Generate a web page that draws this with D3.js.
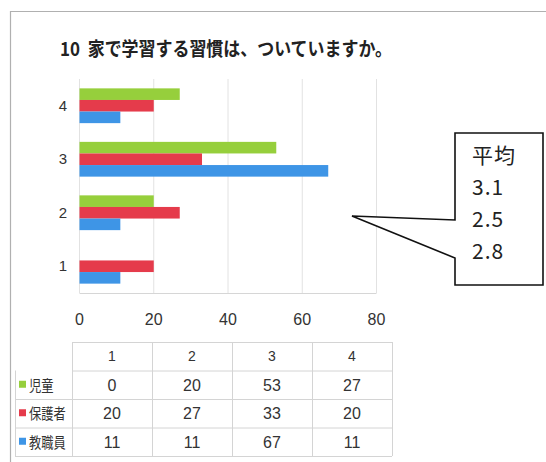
<!DOCTYPE html>
<html>
<head>
<meta charset="utf-8">
<script src="https://cdn.jsdelivr.net/npm/d3@7"></script>
<style>
  body { margin: 0; background: #fff; }
  svg { display: block; }
</style>
</head>
<body>
<script>
// data
var categories = ['1', '2', '3', '4'];
var seriesNames = ['児童', '保護者', '教職員'];
var seriesColors = ['#96cf3c', '#e53b4b', '#3e95e6'];
var jidou = [0, 20, 53, 27];
var hogosha = [20, 27, 33, 20];
var kyoshokuin = [11, 11, 67, 11];
var averages = ['3.1', '2.5', '2.8'];
var xTicks = [0, 20, 40, 60, 80];
var title = '10  家で学習する習慣は、ついていますか。';

var values = [jidou, hogosha, kyoshokuin];
var numFont = '"Liberation Sans Narrow", "Liberation Sans", sans-serif';
var jpFont = '"Noto Sans CJK JP", sans-serif';

var svg = d3.select('body')
            .append('svg')
            .attr('width', 546)
            .attr('height', 462);

// outer frame (left + top only are visible)
svg.append('path')
   .attr('d', 'M10.5,462 L10.5,11.5 L546,11.5')
   .attr('fill', 'none')
   .attr('stroke', '#b0b0b0')
   .attr('stroke-width', 1.2);

svg.append('text')
   .attr('x', 60)
   .attr('y', 56)
   .attr('font-family', jpFont)
   .attr('font-size', 19)
   .attr('font-weight', 'bold')
   .attr('textLength', 332)
   .attr('lengthAdjust', 'spacingAndGlyphs')
   .attr('fill', '#222')
   .style('white-space', 'pre')
   .text(title);

// chart
var x = d3.scaleLinear().domain([0, 80]).range([79.5, 376.5]);
var y = d3.scaleBand().domain(categories.slice().reverse()).range([79, 293]).paddingInner(0.35).paddingOuter(0.175);
var ySub = d3.scaleBand().domain(seriesNames).range([0, y.bandwidth()]);

svg.append('g').selectAll('line')
   .data(xTicks)
   .enter()
     .append('line')
     .attr('x1', function(d) { return x(d); })
     .attr('x2', function(d) { return x(d); })
     .attr('y1', 79)
     .attr('y2', 293)
     .attr('stroke', '#e2e2e2')
     .attr('stroke-width', 1);

svg.append('line')
   .attr('x1', x(0)).attr('x2', x(80))
   .attr('y1', 293.5).attr('y2', 293.5)
   .attr('stroke', '#d6d6d6');

var groups = svg.append('g').selectAll('g')
                .data(seriesNames)
                .enter()
                  .append('g')
                  .attr('fill', function(d, i) { return seriesColors[i]; });

groups.selectAll('rect')
      .data(function(d, i) {
        return categories.map(function(c, j) { return {cat: c, series: d, v: values[i][j]}; });
      })
      .enter()
        .append('rect')
        .attr('x', x(0))
        .attr('y', function(d) { return y(d.cat) + ySub(d.series); })
        .attr('width', function(d) { return x(d.v) - x(0); })
        .attr('height', ySub.bandwidth());

svg.append('g').selectAll('text')
   .data(categories)
   .enter()
     .append('text')
     .attr('x', 63)
     .attr('y', function(d) { return y(d) + y.bandwidth() / 2 + 5; })
     .attr('text-anchor', 'middle')
     .attr('font-family', numFont)
     .attr('font-size', 15)
     .attr('fill', '#333')
     .text(function(d) { return d; });

svg.append('g').selectAll('text')
   .data(xTicks)
   .enter()
     .append('text')
     .attr('x', function(d) { return x(d); })
     .attr('y', 325)
     .attr('text-anchor', 'middle')
     .attr('font-family', numFont)
     .attr('font-size', 16)
     .attr('fill', '#333')
     .text(function(d) { return d; });

// data table
var colX = d3.scaleBand().domain(categories).range([72, 392]);
var rowY = d3.scaleBand().domain(['head'].concat(seriesNames)).range([342, 456]).paddingOuter(0);
var grid = '#d4d4d4';

var table = svg.append('g');
// horizontal lines
table.selectAll('line.h')
     .data(['head'].concat(seriesNames).concat(['end']))
     .enter()
       .append('line')
       .attr('class', 'h')
       .attr('x1', function(d, i) { return i < 2 ? 72 : 15; })
       .attr('x2', 392)
       .attr('y1', function(d, i) { return 342 + i * rowY.step() + 0.5; })
       .attr('y2', function(d, i) { return 342 + i * rowY.step() + 0.5; })
       .attr('stroke', grid);
// vertical lines
table.selectAll('line.v')
     .data(categories.concat(['end']))
     .enter()
       .append('line')
       .attr('class', 'v')
       .attr('x1', function(d, i) { return 72 + i * colX.step() + 0.5; })
       .attr('x2', function(d, i) { return 72 + i * colX.step() + 0.5; })
       .attr('y1', 342)
       .attr('y2', 456)
       .attr('stroke', grid);
table.append('line')
     .attr('x1', 15.5).attr('x2', 15.5)
     .attr('y1', rowY(seriesNames[0])).attr('y2', 456)
     .attr('stroke', grid);

table.selectAll('text.head')
     .data(categories)
     .enter()
       .append('text')
       .attr('class', 'head')
       .attr('x', function(d) { return colX(d) + colX.bandwidth() / 2; })
       .attr('y', rowY('head') + rowY.bandwidth() / 2 + 5)
       .attr('text-anchor', 'middle')
       .attr('font-family', numFont)
       .attr('font-size', 14)
       .attr('fill', '#333')
       .text(function(d) { return d; });

var rows = table.selectAll('g.row')
                .data(seriesNames)
                .enter()
                  .append('g')
                  .attr('class', 'row');

rows.append('rect')
    .attr('x', 19)
    .attr('y', function(d) { return rowY(d) + rowY.bandwidth() / 2 - 4; })
    .attr('width', 7)
    .attr('height', 7)
    .attr('fill', function(d, i) { return seriesColors[i]; });

rows.append('text')
    .attr('x', 29)
    .attr('y', function(d) { return rowY(d) + rowY.bandwidth() / 2 + 6; })
    .attr('font-family', jpFont)
    .attr('font-size', 15)
    .attr('textLength', function(d) { return d.length * 12.3; })
    .attr('lengthAdjust', 'spacingAndGlyphs')
    .attr('fill', '#333')
    .text(function(d) { return d; });

rows.selectAll('text.val')
    .data(function(d, i) {
      return categories.map(function(c, j) { return {cat: c, series: d, v: values[i][j]}; });
    })
    .enter()
      .append('text')
      .attr('class', 'val')
      .attr('x', function(d) { return colX(d.cat) + colX.bandwidth() / 2; })
      .attr('y', function(d) { return rowY(d.series) + rowY.bandwidth() / 2 + 6; })
      .attr('text-anchor', 'middle')
      .attr('font-family', numFont)
      .attr('font-size', 16)
      .attr('fill', '#333')
      .text(function(d) { return d.v; });

// callout with averages
svg.append('path')
   .attr('d', 'M455,133 L543,133 L543,285 L455,285 L455,258 L352,216 L455,220 Z')
   .attr('fill', '#fff')
   .attr('stroke', '#111')
   .attr('stroke-width', 1.6)
   .attr('stroke-linejoin', 'miter');

svg.append('g').selectAll('text')
   .data(['平均'].concat(averages))
   .enter()
     .append('text')
     .attr('x', 472)
     .attr('y', function(d, i) { return 163 + i * 32; })
     .attr('font-family', jpFont)
     .attr('font-size', 21)
     .attr('letter-spacing', 1)
     .attr('fill', '#222')
     .text(function(d) { return d; });
</script>
</body>
</html>
